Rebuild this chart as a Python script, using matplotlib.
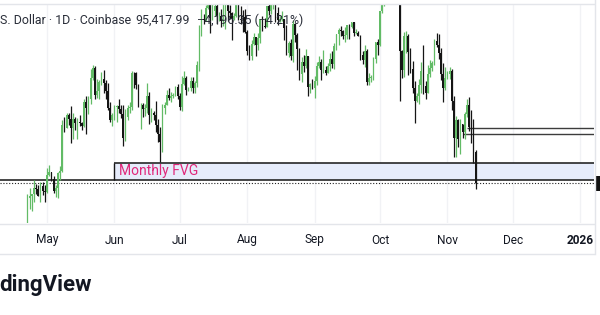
import matplotlib
matplotlib.use('Agg')
import matplotlib.pyplot as plt
import matplotlib.dates as mdates
import matplotlib.transforms as mtransforms
from matplotlib.patches import Rectangle
from matplotlib.lines import Line2D
import pandas as pd
import numpy as np

plt.rcParams['font.family'] = ['Roboto', 'DejaVu Sans']

# ---------------- data (BTC/USD daily, thousands of USD) ----------------
start_date = '2025-04-22'
opens = [
    87.5, 93.4, 93.7, 93.9, 94.7, 94.6, 93.7, 95.0, 94.3,
    94.2, 96.5, 96.9, 95.9, 94.3, 94.7, 96.8, 97.0, 103.2, 102.9, 104.6, 104.1, 102.8, 104.1, 103.5, 103.7,
    103.5, 103.1, 106.4, 105.6, 106.8, 109.6, 111.0, 107.3, 107.8, 109.0, 109.4, 108.9, 107.8, 105.6, 103.9,
    104.6, 105.7, 105.8, 105.4, 104.7, 101.5, 104.3, 105.6, 105.7, 110.3, 110.3, 108.6, 105.9, 106.0, 105.4,
    105.6, 107.1, 104.6, 104.9, 104.6, 103.3, 102.1, 101.0, 105.5, 106.0, 107.3, 106.9, 107.1, 107.3, 108.4,
    107.2, 105.7, 108.8, 109.6, 108.0, 108.2, 109.2, 108.3, 108.9, 111.3, 116.0, 117.5, 117.4, 119.1, 119.8,
    117.7, 118.7, 119.3, 117.9, 117.9, 117.3, 117.4, 120.0, 118.7, 118.3, 117.6, 117.9, 119.4, 118.0, 117.9, 117.8,
    115.8, 113.3, 112.5, 114.2, 115.1, 114.1, 115.0, 117.5, 116.6, 116.5, 119.3, 118.7, 120.2, 123.3, 118.4,
    117.4, 117.5, 117.5, 116.3, 112.9, 114.3, 112.5, 116.9, 115.4, 113.5, 110.1, 111.8, 111.2, 112.6, 108.4, 108.8,
    108.3, 109.2, 111.2, 111.7, 110.7, 110.7, 110.2, 111.2, 112.1, 111.5, 113.9, 115.5, 116.1, 115.9, 115.3,
    115.4, 116.8, 116.5, 117.1, 115.7, 115.7, 115.3, 112.7, 112.0, 113.3, 109.0, 109.6, 109.7, 112.1, 114.4,
    114.0, 118.6, 120.6, 122.3, 122.4, 123.5, 124.7, 121.4, 123.3, 121.7, 113.2, 110.7, 115.2, 115.3, 113.1,
    110.8, 108.2, 106.5, 107.2, 108.6, 110.6, 108.5, 107.6, 110.1, 111.0, 111.6, 114.6, 114.1, 112.9, 110.1, 108.3,
    109.6, 110.1, 110.6, 106.5, 101.5, 103.9, 101.3, 103.4, 102.3, 104.7, 106.0, 103.0, 101.6, 99.6,
]
highs = [
    93.9, 94.7, 94.0, 95.8, 95.3, 95.2, 95.6, 95.5, 95.2,
    97.4, 97.9, 96.9, 96.3, 95.2, 96.9, 97.7, 103.9, 104.3, 104.9, 104.9, 105.8, 104.9, 104.3, 104.2, 104.6,
    103.7, 106.7, 107.1, 107.2, 110.8, 111.3, 111.2, 109.5, 109.3, 110.4, 110.7, 109.3, 108.9, 106.3, 104.9,
    105.9, 105.9, 106.8, 105.9, 105.9, 105.4, 105.9, 106.4, 110.5, 110.4, 110.4, 108.8, 106.2, 106.2, 106.1,
    108.9, 107.7, 105.6, 105.2, 106.5, 104.0, 103.0, 106.1, 106.3, 108.0, 108.3, 107.7, 107.6, 108.5, 108.8,
    107.5, 109.8, 110.6, 109.8, 108.4, 109.7, 109.7, 109.2, 111.9, 116.8, 118.9, 118.2, 119.5, 123.2, 119.9,
    119.7, 120.9, 120.9, 118.5, 118.9, 119.7, 120.2, 120.2, 119.5, 118.5, 118.3, 119.8, 119.8, 119.3, 118.8, 118.9,
    116.1, 114.0, 114.7, 115.7, 115.1, 115.7, 117.6, 117.9, 117.7, 119.3, 122.3, 120.3, 123.7, 124.5, 119.2,
    117.9, 118.6, 117.6, 116.8, 114.6, 114.8, 117.4, 117.0, 115.6, 113.7, 112.4, 112.7, 113.5, 112.6, 108.9, 109.5,
    109.9, 111.8, 112.6, 112.2, 113.4, 111.2, 111.6, 112.9, 113.3, 114.3, 115.5, 116.3, 116.6, 116.1, 116.5,
    116.7, 116.9, 117.2, 117.1, 116.2, 115.9, 115.4, 113.3, 114.0, 113.5, 110.3, 110.0, 112.4, 114.5, 114.8,
    118.6, 121.0, 123.9, 122.9, 125.7, 126.2, 125.1, 124.2, 123.7, 122.5, 113.4, 115.8, 116.0, 115.5, 113.6,
    111.9, 109.2, 107.5, 109.4, 111.7, 114.0, 109.2, 111.3, 112.0, 111.9, 114.9, 115.6, 115.5, 113.6, 111.6, 111.1,
    110.5, 111.1, 110.8, 107.2, 104.5, 104.1, 104.0, 103.4, 105.0, 106.7, 107.0, 105.3, 104.0, 99.9,
]
lows = [
    87.1, 91.9, 91.7, 92.9, 93.9, 93.6, 92.9, 93.8, 92.9,
    94.1, 96.4, 95.7, 94.1, 93.5, 93.4, 95.8, 96.9, 102.3, 102.8, 103.3, 100.8, 101.4, 102.6, 101.4, 103.1,
    102.6, 103.0, 102.0, 104.7, 106.1, 109.3, 106.8, 106.9, 106.7, 108.7, 107.5, 106.8, 105.3, 103.6, 103.1,
    103.9, 103.7, 104.9, 104.2, 100.4, 101.1, 103.9, 104.9, 105.3, 108.3, 108.1, 105.7, 102.7, 104.3, 104.5,
    104.9, 103.4, 103.6, 103.9, 102.3, 100.9, 98.2, 99.6, 104.7, 105.9, 106.6, 106.4, 106.9, 107.1, 106.8,
    105.3, 105.1, 108.6, 107.3, 107.8, 107.8, 107.5, 107.5, 108.4, 110.6, 115.3, 116.9, 117.3, 118.9, 115.7,
    117.4, 117.9, 116.9, 117.3, 116.5, 116.6, 116.2, 117.3, 117.5, 114.7, 117.4, 117.8, 117.4, 116.9, 115.8, 115.6,
    112.7, 112.0, 112.0, 114.1, 112.6, 113.4, 114.3, 115.9, 116.3, 116.5, 118.1, 118.2, 118.9, 117.2, 116.8,
    117.2, 117.3, 114.7, 112.7, 112.4, 112.0, 111.7, 114.5, 110.7, 109.3, 109.0, 110.4, 110.9, 107.2, 107.5, 108.1,
    106.9, 108.6, 110.9, 109.3, 110.2, 110.0, 110.2, 110.6, 110.9, 110.8, 113.4, 114.1, 115.3, 114.8, 114.4,
    114.9, 114.8, 116.3, 115.2, 115.5, 115.2, 112.0, 111.5, 111.1, 108.6, 108.7, 109.1, 109.3, 111.6, 112.7,
    113.9, 118.3, 119.3, 121.0, 122.1, 123.1, 120.6, 121.1, 119.7, 106.5, 109.6, 109.7, 113.0, 110.0, 110.2,
    107.5, 103.5, 106.4, 106.1, 107.5, 107.4, 106.7, 107.5, 109.7, 110.6, 111.3, 113.8, 112.2, 109.3, 106.3, 108.0,
    109.4, 109.4, 105.3, 98.9, 98.9, 100.3, 99.3, 101.5, 101.4, 104.3, 102.5, 100.8, 98.1, 94.6,
]
closes = [
    93.4, 93.7, 93.9, 94.7, 94.6, 93.7, 95.0, 94.3, 94.2,
    96.5, 96.9, 95.9, 94.3, 94.7, 96.8, 97.0, 103.2, 102.9, 104.6, 104.1, 102.8, 104.1, 103.5, 103.7, 103.5,
    103.1, 106.4, 105.6, 106.8, 109.6, 111.0, 107.3, 107.8, 109.0, 109.4, 108.9, 107.8, 105.6, 103.9, 104.6,
    105.7, 105.8, 105.4, 104.7, 101.5, 104.3, 105.6, 105.7, 110.3, 110.2, 108.6, 105.9, 106.0, 105.4, 105.6,
    107.1, 104.6, 104.9, 104.6, 103.3, 102.1, 101.0, 105.5, 106.0, 107.3, 106.9, 107.1, 107.3, 108.4, 107.2,
    105.7, 108.8, 109.6, 108.0, 108.2, 109.2, 108.3, 108.9, 111.3, 116.0, 117.5, 117.4, 119.1, 119.8, 117.7,
    118.7, 119.3, 117.9, 117.9, 117.3, 117.4, 120.0, 118.7, 118.3, 117.6, 117.9, 119.4, 118.0, 117.9, 117.8, 115.8,
    113.3, 112.5, 114.2, 115.1, 114.1, 115.0, 117.5, 116.6, 116.5, 119.3, 118.7, 120.2, 123.3, 118.4, 117.4,
    117.5, 117.5, 116.3, 112.9, 114.3, 112.5, 116.9, 115.4, 113.5, 110.1, 111.8, 111.2, 112.6, 108.4, 108.8, 108.3,
    109.2, 111.2, 111.7, 110.7, 110.7, 110.2, 111.2, 112.1, 111.5, 113.9, 115.5, 116.1, 115.9, 115.3, 115.4,
    116.8, 116.5, 117.1, 115.7, 115.7, 115.3, 112.7, 112.0, 113.3, 109.0, 109.6, 109.7, 112.1, 114.4, 114.0,
    118.6, 120.6, 122.3, 122.4, 123.5, 124.7, 121.4, 123.3, 121.7, 113.2, 110.7, 115.2, 115.3, 113.1, 110.8,
    108.2, 106.5, 107.2, 108.6, 110.6, 108.5, 107.6, 110.1, 111.0, 111.6, 114.6, 114.1, 112.9, 110.1, 108.3, 109.6,
    110.1, 110.6, 106.5, 101.5, 103.9, 101.3, 103.4, 102.3, 104.7, 106.0, 103.0, 101.6, 99.6, 95.418,
]

fvg_start = '2025-06-01'
fvg_top = 98.12
fvg_bottom = 95.87
fvg_label = 'Monthly FVG'
last_price = 95.418
ray_levels = [102.9, 102.0]
ray_starts = ['2025-11-10', '2025-11-08']

month_ticks = ['2025-05-01', '2025-06-01', '2025-07-01', '2025-08-01', '2025-09-01',
               '2025-10-01', '2025-11-01', '2025-12-01', '2026-01-01']
month_labels = ['May', 'Jun', 'Jul', 'Aug', 'Sep', 'Oct', 'Nov', 'Dec', '2026']

title_left = 'S. Dollar · 1D · Coinbase'
title_price = '95,417.99'
title_change = '\u22124,196.35 (\u22124.21%)'
brand = 'dingView'

# ---------------- layout ----------------
W, H = 600, 315
fig = plt.figure(figsize=(W / 100, H / 100), dpi=100)
fig.patch.set_facecolor('white')

def fx(px):
    return px / W

def fy(py):
    return 1 - py / H

ax = fig.add_axes([0, fy(223), fx(594), (223 - 4) / H])
ax.set_facecolor('white')
for s in ax.spines.values():
    s.set_visible(False)
ax.set_xticks([])
ax.set_yticks([])

dates = pd.date_range(start_date, periods=len(closes), freq='D')
xd = mdates.date2num(dates)
may1 = mdates.date2num(pd.Timestamp('2025-05-01'))
ppd = 2.176  # pixels per day
xmin = may1 - 47 / ppd
xmax = may1 + (594 - 47) / ppd
ax.set_xlim(xmin, xmax)
ax.set_ylim(90.02, 119.58)

# vertical grid at months
tick_x = mdates.date2num(pd.to_datetime(month_ticks))
for tx in tick_x:
    ax.axvline(tx, color='#f1f2f5', lw=1.0, zorder=0)

# FVG box
fx0 = mdates.date2num(pd.Timestamp(fvg_start))
ax.add_patch(Rectangle((fx0, fvg_bottom), xmax + 10 - fx0, fvg_top - fvg_bottom,
                       facecolor='#e6ecfb', edgecolor='none', zorder=1))
ax.hlines(fvg_top, fx0, xmax + 10, color='#151515', lw=1.1, zorder=2)
ax.hlines(fvg_bottom, xmin - 10, xmax + 10, color='#151515', lw=1.1, zorder=2)
ax.vlines(fx0, fvg_bottom, fvg_top, color='#151515', lw=1.0, zorder=2)
ax.text(fx0 + 5 / ppd, (fvg_top + fvg_bottom) / 2, fvg_label, color='#e0287a',
        fontsize=10, va='center', ha='left', zorder=2)

# last-price dotted line
ax.axhline(last_price, color='#222222', lw=0.8, ls=(0, (1, 1.6)), zorder=2)

# horizontal rays
for lvl, st in zip(ray_levels, ray_starts):
    ax.hlines(lvl, mdates.date2num(pd.Timestamp(st)), xmax + 10, color='#3c3c3c', lw=1.0, zorder=2)

# candles
o = np.array(opens); h = np.array(highs); l = np.array(lows); c = np.array(closes)
up = c >= o
col_up = '#62bb66'
col_dn = '#151515'
colors = np.where(up, col_up, col_dn)
ax.vlines(xd, l, h, colors=colors, lw=0.9, zorder=3)
body_lo = np.minimum(o, c)
body_h = np.maximum(np.abs(c - o), 0.08)
ax.bar(xd, body_h, bottom=body_lo, width=0.75, color=colors, edgecolor='none', zorder=3)

# month labels
trans = mtransforms.blended_transform_factory(ax.transData, ax.transAxes)
ylab = (223 - 240) / (223 - 4)
for tx, lab in zip(tick_x, month_labels):
    ax.text(tx, ylab, lab, transform=trans, ha='center', va='center', fontsize=8.6,
            color='#131722', fontweight='bold' if lab == '2026' else 'normal', clip_on=False)

# frame lines
line_col = '#e3e5ea'
fig.add_artist(Line2D([0, fx(594)], [fy(3.5), fy(3.5)], color=line_col, lw=1))
fig.add_artist(Line2D([0, fx(594)], [fy(223.5), fy(223.5)], color=line_col, lw=1))
fig.add_artist(Line2D([0, fx(594)], [fy(253.5), fy(253.5)], color=line_col, lw=1))
fig.add_artist(Line2D([fx(594.5), fx(594.5)], [fy(0), fy(253.5)], color=line_col, lw=1))

# price label on the right
fig.add_artist(Rectangle((fx(595.5), fy(191)), fx(5), 15 / H, facecolor='#111111',
                         edgecolor='none', transform=fig.transFigure))

# legend text at top
fig.text(fx(0), fy(20), title_left, fontsize=8.9, color='#2a2e39', va='center', ha='left')
fig.text(fx(135), fy(20), title_price, fontsize=8.9, color='#2a2e39', va='center', ha='left')
fig.text(fx(197), fy(20), title_change, fontsize=8.9, color='#2a2e39', va='center', ha='left')

# brand
fig.text(fx(-1), fy(291), brand, fontsize=16, fontweight='bold', color='#131722',
         va='baseline', ha='left')

fig.savefig('out.png', dpi=100, facecolor='white')
